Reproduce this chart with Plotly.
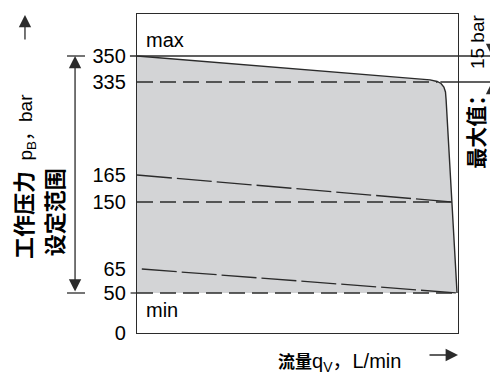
import numpy as np
import plotly.graph_objects as go

# ---------------- data ----------------
pressure_levels = [0, 50, 65, 150, 165, 335, 350]          # labelled pressures, bar
tick_labels = ["0", "50", "65", "150", "165", "335", "350"]

# upper limit (max) curve: flow (relative %) vs pressure (bar)
flow_boundary = [0, 91.3, 93.5, 94.7, 95.6, 96.1, 96.3, 98.1, 99.7]
p_boundary = [350, 336.2, 335.3, 332.3, 325.9, 316.7, 302.1, 151.1, 50]

# intermediate setting curves
mid_flow = [0, 98.1]
mid_p = [165, 150]
low_flow = [1.5, 99.7]
low_p = [65, 50]

# dashed reference levels
dashed_levels = [335, 150, 50]

# schematic (non-linear) pressure axis: pressure -> display position
AXIS_P = [0, 50, 65, 150, 165, 335, 350]
AXIS_D = [0, 40, 64, 131, 158, 251, 277]


def disp(p):
    return np.interp(np.asarray(p, dtype=float), AXIS_P, AXIS_D)


FONT = "Liberation Sans, Arial, Noto Sans CJK SC"
LINE = "#2b2b2b"

fig = go.Figure()

# gray operating region
fx = list(flow_boundary) + [0]
fy = list(disp(p_boundary)) + [float(disp(50))]
fig.add_trace(go.Scatter(x=fx, y=fy, fill="toself", fillcolor="#d3d4d6",
                         line=dict(width=0), mode="lines", hoverinfo="skip"))

# dashed horizontal levels
fb_rev = np.array(flow_boundary)[::-1]
pb_rev = np.array(p_boundary)[::-1]
for lv in dashed_levels:
    xend = float(np.interp(lv, pb_rev, fb_rev)) if lv != 50 else 100
    fig.add_trace(go.Scatter(x=[0, xend], y=[float(disp(lv))] * 2, mode="lines",
                             line=dict(color=LINE, width=1.4, dash="16px,7px"),
                             hoverinfo="skip"))

# setting curves
for fxs, pys in [(mid_flow, mid_p), (low_flow, low_p)]:
    fig.add_trace(go.Scatter(x=fxs, y=disp(pys), mode="lines",
                             line=dict(color=LINE, width=1.3, dash="35px,5px"),
                             hoverinfo="skip"))

# max curve
fig.add_trace(go.Scatter(x=flow_boundary, y=disp(p_boundary), mode="lines",
                         line=dict(color=LINE, width=1.4), hoverinfo="skip"))

shapes = []
y350 = float(disp(350))
y335 = float(disp(335))
y50 = float(disp(50))
# solid 350 line running across and beyond the plot
shapes.append(dict(type="line", xref="paper", yref="y", x0=-0.022, x1=1.115,
                   y0=y350, y1=y350, line=dict(color=LINE, width=1.3)))
# 335 line on the right
shapes.append(dict(type="line", xref="paper", yref="y", x0=0.945, x1=1.115,
                   y0=y335, y1=y335, line=dict(color=LINE, width=1.3)))
# tick at 50
shapes.append(dict(type="line", xref="paper", yref="y", x0=-0.02, x1=0,
                   y0=y50, y1=y50, line=dict(color=LINE, width=1.3)))
# caps of the left range arrow
for yy in (y350, y50):
    shapes.append(dict(type="line", xref="paper", yref="y", x0=-0.218, x1=-0.162,
                       y0=yy, y1=yy, line=dict(color=LINE, width=1.3)))
fig.update_layout(shapes=shapes)

ARW = dict(showarrow=True, arrowhead=2, arrowsize=1.9, arrowwidth=1.3, arrowcolor=LINE, text="")
ann = []
# left range double arrow
ann.append(dict(x=-0.193, y=y350, xref="paper", yref="y", ax=0, ay=237,
                arrowside="end+start", **ARW))
# right 15 bar arrows
ann.append(dict(x=1.106, y=y350, xref="paper", yref="y", ax=0, ay=-26, **ARW))
ann.append(dict(x=1.106, y=y335, xref="paper", yref="y", ax=0, ay=140, **ARW))
# y axis direction arrow
ann.append(dict(x=-0.349, y=0.997, xref="paper", yref="paper", ax=0, ay=26, **ARW))
# x axis direction arrow
ann.append(dict(x=1.0, y=-0.069, xref="paper", yref="paper", ax=-30, ay=0, **ARW))


def txt(x, y, text, size, angle=0, xanchor="center"):
    return dict(x=x, y=y, xref="paper", yref="paper", showarrow=False, textangle=angle,
                xanchor=xanchor, yanchor="middle", text=text,
                font=dict(family=FONT, size=size, color="black"))


ann.append(txt(-0.349, 0.492,
               "<b><span style='font-size:22px'>工作压力</span></b>  p<sub>B</sub>，bar", 19, -90))
ann.append(txt(-0.255, 0.379, "<b>设定范围</b>", 22, -90))
ann.append(txt(1.059, 0.646, "<b>最大值：</b>", 21, -90))
ann.append(txt(1.059, 0.915, "15 bar", 19, -90))
ann.append(txt(0.632, -0.091,
               "<b><span style='font-size:17px'>流量</span></b>q<sub>V</sub>，L/min", 20))
ann.append(txt(0.022, 0.918, "max", 20, 0, "left"))
ann.append(txt(0.022, 0.072, "min", 20, 0, "left"))

# page body has an 8px margin: figure is 490x368 so the plot sits where the reference's does
fig.update_layout(
    annotations=ann,
    width=490, height=368,
    margin=dict(l=129, r=40, t=6, b=43),
    paper_bgcolor="white", plot_bgcolor="white",
    showlegend=False,
    xaxis=dict(range=[0, 100], showticklabels=False, ticks="", showgrid=False,
               zeroline=False, showline=True, mirror=True, linecolor=LINE, linewidth=1.4,
               fixedrange=True),
    yaxis=dict(range=[0, 319], tickvals=list(disp(pressure_levels)), ticktext=tick_labels,
               ticks="outside", ticklen=6, tickcolor="rgba(0,0,0,0)", showgrid=False,
               zeroline=False, showline=True, mirror=True, linecolor=LINE, linewidth=1.4,
               tickfont=dict(family=FONT, size=20, color="black"), fixedrange=True),
)

fig.write_html("out.html")
